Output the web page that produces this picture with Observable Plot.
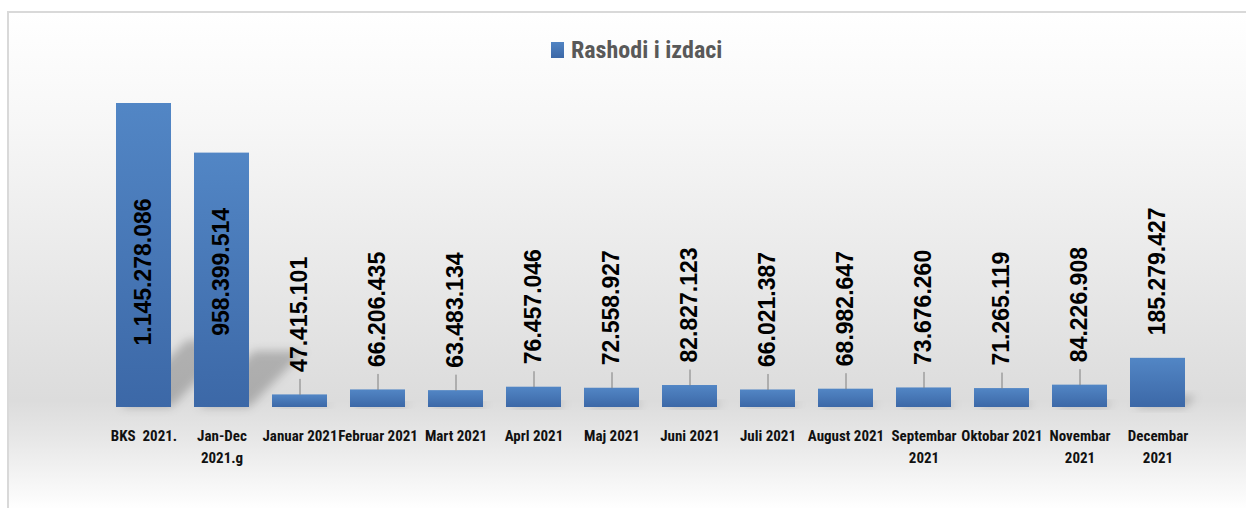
<!DOCTYPE html>
<html>
<head>
<meta charset="utf-8">
<script src="https://cdn.jsdelivr.net/npm/d3@7"></script>
<script src="https://cdn.jsdelivr.net/npm/@observablehq/plot@0.6"></script>
<style>
  body { margin: 0; background: #ffffff; }
  #wrap { position: relative; width: 1246px; height: 508px; overflow: hidden; background: #ffffff; }
  #frame { position: absolute; left: 7px; top: 11px; right: 0; bottom: -2px;
    border-top: 2px solid #d9d9d9; border-left: 2px solid #d9d9d9;
    background: linear-gradient(to bottom, #ffffff 0%, #f7f7f7 22%, #ececec 45%, #dcdcdc 78%, #e6e6e6 85%, #ffffff 100%); }
  #chart { position: absolute; left: 0; top: 0; }
  #legend { position: absolute; left: 551px; top: 36px; display: flex; align-items: center;
    font-family: "Liberation Sans Narrow", "Roboto Condensed", "DejaVu Sans Condensed", sans-serif;
    font-weight: bold; font-size: 24px; color: #595959; white-space: nowrap; }
  #legend .sw { display: inline-block; width: 13px; height: 16px; margin-right: 7px;
    background: linear-gradient(to bottom, #5184c3, #3c68a7); }
</style>
</head>
<body>
<div id="wrap">
  <div id="frame"></div>
  <div id="chart"></div>
  <div id="legend"></div>
</div>
<script>
const seriesName = "Rashodi i izdaci";
const categories = [
  "BKS  2021.", "Jan-Dec\n2021.g", "Januar 2021", "Februar 2021", "Mart 2021", "Aprl 2021",
  "Maj 2021", "Juni 2021", "Juli 2021", "August 2021", "Septembar\n2021", "Oktobar 2021",
  "Novembar\n2021", "Decembar\n2021"
];
const values = [
  1145278086, 958399514, 47415101, 66206435, 63483134, 76457046,
  72558927, 82827123, 66021387, 68982647, 73676260, 71265119,
  84226908, 185279427
];

const fmt = d3.formatLocale({decimal: ",", thousands: ".", grouping: [3], currency: ["", ""]}).format(",");
const data = categories.map((c, i) => ({category: c, value: values[i], label: fmt(values[i])}));

const W = 1246, H = 508, mT = 103, mB = 101, mL = 104, mR = 50;
const yMax = d3.max(values);
const unitsPerPx = yMax / (H - mT - mB);
const big = data.slice(0, 2);
const small = data.slice(2);
const leaders = small.slice(0, -1);
const bigLabelY = d3.mean(big, d => d.value) / 2;

const narrow = "'Liberation Sans Narrow', 'Roboto Condensed', 'DejaVu Sans Condensed', sans-serif";
const numFont = "'Liberation Sans', Arial, sans-serif";

function defsAndShadows(index, scales) {
  const x = scales.x, y = scales.y;
  const bw = typeof x.bandwidth === "function" ? x.bandwidth() : x.bandwidth;
  const g = d3.create("svg:g");
  const defs = g.append("defs");
  const grad = defs.append("linearGradient").attr("id", "barGrad")
    .attr("x1", 0).attr("y1", 0).attr("x2", 0).attr("y2", 1);
  grad.append("stop").attr("offset", "0%").attr("stop-color", "#5286c5");
  grad.append("stop").attr("offset", "100%").attr("stop-color", "#3c68a7");
  defs.append("filter").attr("id", "shadowBlur")
    .attr("x", "-50%").attr("y", "-50%").attr("width", "200%").attr("height", "200%")
    .append("feGaussianBlur").attr("stdDeviation", 5);
  const y0 = y(0);
  for (const d of data) {
    const x0 = x(d.category) + 4, x1 = x(d.category) + bw;
    const h = (y0 - y(d.value)) * 0.22;
    g.append("polygon")
      .attr("points", [[x0, y0], [x1, y0], [x1 + h, y0 - h], [x0 + h, y0 - h]].map(p => p.join(",")).join(" "))
      .attr("fill", "rgba(0,0,0,0.22)")
      .attr("filter", "url(#shadowBlur)");
  }
  return g.node();
}

const chart = Plot.plot({
  width: W, height: H,
  marginTop: mT, marginBottom: mB, marginLeft: mL, marginRight: mR,
  style: {background: "transparent", fontFamily: narrow, fontSize: "15px", color: "#111111"},
  x: {domain: categories, paddingInner: 0.295, paddingOuter: 0.1475, label: null},
  y: {domain: [0, yMax], axis: null},
  marks: [
    defsAndShadows,
    Plot.barY(data, {x: "category", y: "value", fill: "url(#barGrad)"}),
    Plot.link(leaders, {x1: "category", x2: "category", y1: "value", y2: d => d.value + 16 * unitsPerPx,
      stroke: "#7f7f7f", strokeWidth: 1}),
    Plot.text(small, {x: "category", y: "value", text: "label", rotate: -90, textAnchor: "start", dy: -23,
      fontSize: 23, fontFamily: numFont, fontWeight: "bold", fill: "#000000"}),
    Plot.text(big, {x: "category", y: () => bigLabelY, text: "label", rotate: -90, textAnchor: "middle", dy: 4,
      fontSize: 23, fontFamily: numFont, fontWeight: "bold", fill: "#000000"}),
    Plot.axisX({tickSize: 0, tickPadding: 18, lineHeight: 1.45, fontSize: 15, fontWeight: "bold", label: null, fill: "#111111"})
  ]
});
document.getElementById("chart").appendChild(chart);

const legend = document.getElementById("legend");
const sw = document.createElement("span"); sw.className = "sw";
const lt = document.createElement("span"); lt.textContent = seriesName;
legend.appendChild(sw); legend.appendChild(lt);
</script>
</body>
</html>
